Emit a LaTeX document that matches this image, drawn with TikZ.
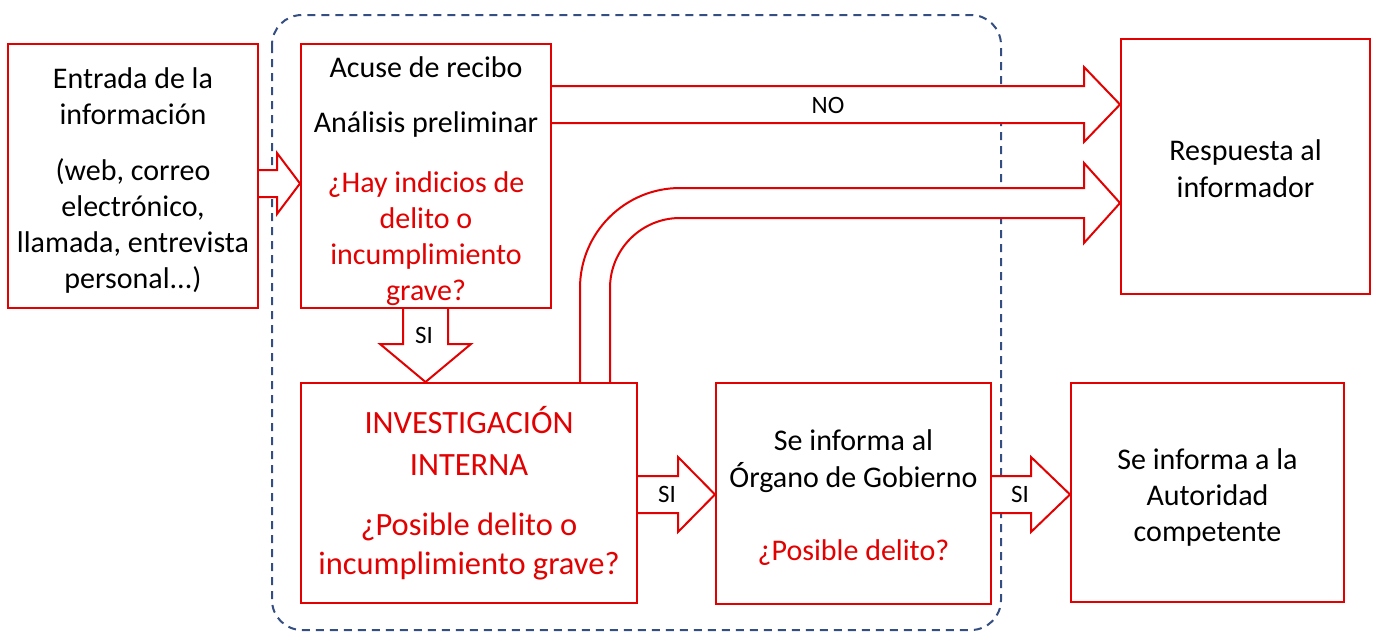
\documentclass[tikz,border=0pt]{standalone}
\usepackage{fontspec}
\setmainfont{Carlito}
\usetikzlibrary{calc,backgrounds}

\definecolor{boxred}{RGB}{226,0,0}
\definecolor{frameblue}{RGB}{52,78,130}

\tikzset{
  box/.style={draw=boxred, line width=2pt, align=center, inner sep=0pt,
    font=\fontsize{30}{36}\selectfont},
  blockarrow/.style={draw=boxred, line width=2pt, fill=white, line join=miter},
  lbl/.style={font=\fontsize{25}{30}\selectfont},
}

% baja un poco el texto dentro de la caja
\newcommand{\pushdown}[1]{\rule{0pt}{#1}}
% flecha gruesa horizontal: desde, hasta, y, medio cuerpo, media punta, largo punta
\newcommand{\hblock}[6]{%
  \draw[blockarrow] (#1.east |- 0,#3-#4)
    -- ($(#2.west |- 0,#3-#4)+(-#6,0)$)
    -- ($(#2.west |- 0,#3-#5)+(-#6,0)$)
    -- (#2.west |- 0,#3)
    -- ($(#2.west |- 0,#3+#5)+(-#6,0)$)
    -- ($(#2.west |- 0,#3+#4)+(-#6,0)$)
    -- (#1.east |- 0,#3+#4);}
% flecha gruesa vertical: desde, hasta, x, medio cuerpo, media punta, largo punta
\newcommand{\vblock}[6]{%
  \draw[blockarrow] (#3-#4,0 |- #1.south)
    -- ($(#3-#4,0 |- #2.north)+(0,-#6)$)
    -- ($(#3-#5,0 |- #2.north)+(0,-#6)$)
    -- (#3,0 |- #2.north)
    -- ($(#3+#5,0 |- #2.north)+(0,-#6)$)
    -- ($(#3+#4,0 |- #2.north)+(0,-#6)$)
    -- (#3+#4,0 |- #1.south);}

\begin{document}
\begin{tikzpicture}[x=1pt,y=-1pt]
\useasboundingbox (0,0) rectangle (1380,640);

% cajas
\node[box, minimum width=250pt, minimum height=264pt] (entrada) at (133,176)
  {\pushdown{30pt}Entrada de la\\información\\[20pt](web, correo\\electrónico,\\llamada, entrevista\\personal...)};
\node[box, minimum width=250pt, minimum height=264pt] (acuse) at (426,176)
  {\pushdown{32pt}Acuse de recibo\\[19pt]Análisis preliminar\\[24pt]\textcolor{boxred}{¿Hay indicios de}\\
   \textcolor{boxred}{delito o}\\\textcolor{boxred}{incumplimiento}\\\textcolor{boxred}{grave?}};
\node[box, minimum width=336pt, minimum height=220pt, text=boxred,
  font=\fontsize{32.5}{39}\selectfont] (inv) at (469,493)
  {INVESTIGACIÓN\\[3pt]INTERNA\\[21pt]¿Posible delito o\\incumplimiento grave?};
\node[box, minimum width=275pt, minimum height=221pt,
  font=\fontsize{30}{37}\selectfont] (organo) at (853.5,493.5)
  {\pushdown{30pt}Se informa al\\Órgano de Gobierno\\[36pt]\textcolor{boxred}{¿Posible delito?}};
\node[box, minimum width=249pt, minimum height=255pt,
  font=\fontsize{30}{37}\selectfont] (resp) at (1245.5,166.5)
  {\pushdown{26pt}Respuesta al\\informador};
\node[box, minimum width=273pt, minimum height=219pt] (autor) at (1207.5,492.5)
  {\pushdown{30pt}Se informa a la\\Autoridad\\competente};

\begin{scope}[on background layer]
% marco punteado
\draw[frameblue, line width=2pt, dash pattern=on 8pt off 6pt, rounded corners=30pt]
  (272,15) rectangle (1001,630);
% flechas
\hblock{entrada}{acuse}{183.5}{13.5}{30.5}{23}
\hblock{acuse}{resp}{104.5}{18.5}{37.5}{36}
\vblock{acuse}{inv}{425.5}{22.5}{45.5}{38}
\hblock{inv}{organo}{494.5}{18.5}{37.5}{37}
\hblock{organo}{autor}{494.5}{18.5}{37.5}{39}
\draw[blockarrow] (580,0 |- inv.north) -- (580,288)
  arc[start angle=180, end angle=270, radius=100]
  -- ($(resp.west |- 0,188)+(-36,0)$)
  -- ($(resp.west |- 0,163)+(-36,0)$)
  -- (resp.west |- 0,203)
  -- ($(resp.west |- 0,243)+(-36,0)$)
  -- ($(resp.west |- 0,218)+(-36,0)$)
  -- (680,218) arc[start angle=270, end angle=180, radius=70]
  -- (610,0 |- inv.north);
\end{scope}

% etiquetas
\node[lbl] (no) at (828,105) {NO};
\node[lbl] (si1) at (424,335) {SI};
\node[lbl] (si2) at (667,494) {SI};
\node[lbl] (si3) at (1020,494) {SI};
\end{tikzpicture}
\end{document}
